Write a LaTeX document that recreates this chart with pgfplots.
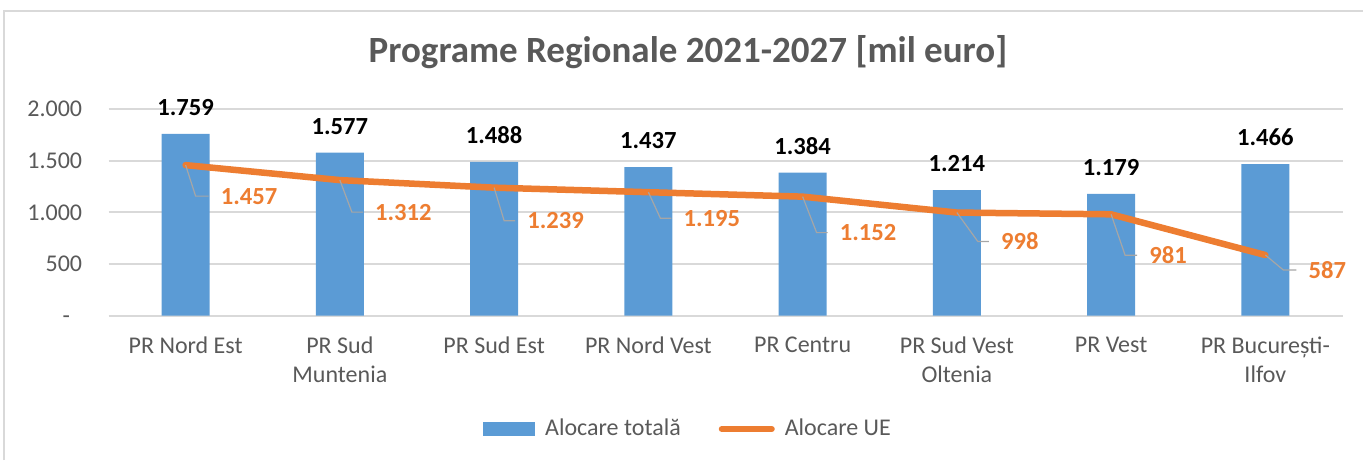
\documentclass[border=0pt]{standalone}
\usepackage{fontspec}
\setmainfont{Carlito}
\usepackage{pgfplots}
\pgfplotsset{compat=1.18}
\definecolor{barblue}{HTML}{5B9BD5}
\definecolor{orangeC}{HTML}{ED7D31}
\definecolor{textgray}{HTML}{595959}
\definecolor{gridgray}{HTML}{D9D9D9}
\definecolor{leadgray}{HTML}{A6A6A6}
\definecolor{framegray}{HTML}{D9D9D9}
\begin{document}
\begin{tikzpicture}
\path[use as bounding box] (0,0) rectangle (681.5pt,230pt);
\draw[framegray, line width=1pt] (2pt,0) -- (2pt,224.6pt) -- (681.5pt,224.6pt);
\begin{axis}[
  at={(54.25pt,72.15pt)}, anchor=south west,
  scale only axis, width=617pt, height=103.35pt,
  xmin=-0.5, xmax=7.5, ymin=0, ymax=2000,
  axis line style={draw=none},
  major tick length=0pt,
  ymajorgrids, grid style={gridgray, line width=0.9pt},
  xtick={0,1,2,3,4,5,6,7},
  xticklabels={PR Nord Est, {PR Sud\\Muntenia}, PR Sud Est, PR Nord Vest, PR Centru, {PR Sud Vest\\Oltenia}, PR Vest, {PR București-\\Ilfov}},
  ytick={0,500,1000,1500,2000},
  yticklabels={{-\phantom{0}}, 500, 1.000, 1.500, 2.000},
  tick label style={font=\fontsize{12}{14.5}\selectfont, text=textgray},
  xticklabel style={align=center, inner sep=0pt, yshift=-10.4pt},
  yticklabel style={inner sep=0pt, xshift=-13pt},
  clip=false,
  title={Programe Regionale 2021-2027 [mil euro]},
  title style={at={(0.4696,1.2177)}, anchor=center, font=\bfseries\fontsize{18.5}{21}\selectfont, text=textgray, inner sep=0pt},
  legend style={at={(0.4704,-0.548)}, anchor=center, draw=none, fill=none,
    font=\fontsize{12}{14.5}\selectfont, text=textgray, legend columns=2,
    /tikz/every odd column/.append style={column sep=3pt},
    /tikz/every even column/.append style={column sep=17pt}},
  legend cell align=left,
]
\addplot[ybar, bar width=24pt, fill=barblue, draw=none,
  point meta=explicit symbolic, nodes near coords,
  every node near coord/.append style={anchor=south, inner sep=0pt, yshift=9pt, font=\bfseries\fontsize{12.3}{14}\selectfont, text=black},
  legend image code/.code={\fill[barblue] (0pt,-3.5pt) rectangle (26pt,3.5pt);}]
  coordinates {(0,1759)[1.759] (1,1577)[1.577] (2,1488)[1.488] (3,1437)[1.437] (4,1384)[1.384] (5,1214)[1.214] (6,1179)[1.179] (7,1466)[1.466]};
\addlegendentry{Alocare totală}
\addplot[orangeC, line width=3.25pt, line join=round, line cap=round,
  legend image code/.code={\draw[orangeC, line width=3pt, line cap=round] (1.5pt,0pt) -- (26.5pt,0pt);}]
  coordinates {(0,1457) (1,1312) (2,1239) (3,1195) (4,1152) (5,998) (6,981) (7,587)};
\addlegendentry{Alocare UE}
\tikzset{lead/.style={leadgray, line width=0.6pt},
  lbl/.style={anchor=west, inner sep=0pt, xshift=5.8pt, font=\bfseries\fontsize{12.3}{14}\selectfont, text=orangeC}}
\draw[lead] (axis cs:0,1457) -- ++(5pt,-15.5pt) -- ++(6.5pt,0pt) node[lbl] {1.457};
\draw[lead] (axis cs:1,1312) -- ++(6pt,-16pt) -- ++(5.5pt,0pt) node[lbl] {1.312};
\draw[lead] (axis cs:2,1239) -- ++(5pt,-16.5pt) -- ++(5.5pt,0pt) node[lbl] {1.239};
\draw[lead] (axis cs:3,1195) -- ++(6pt,-13pt) -- ++(5.5pt,0pt) node[lbl] {1.195};
\draw[lead] (axis cs:4,1152) -- ++(7pt,-18pt) -- ++(5.5pt,0pt) node[lbl] {1.152};
\draw[lead] (axis cs:5,998) -- ++(10.5pt,-14.5pt) -- ++(5.5pt,0pt) node[lbl] {998};
\draw[lead] (axis cs:6,981) -- ++(7pt,-20.5pt) -- ++(6pt,0pt) node[lbl] {981};
\draw[lead] (axis cs:7,587) -- ++(9pt,-7.5pt) -- ++(6.5pt,0pt) node[lbl] {587};
\end{axis}
\end{tikzpicture}
\end{document}
